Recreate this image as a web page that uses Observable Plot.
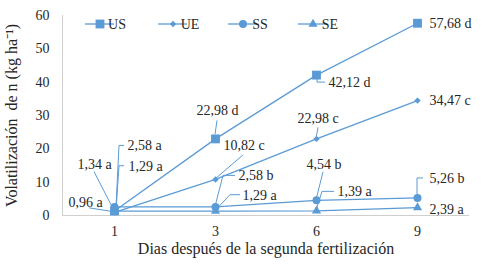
<!DOCTYPE html>
<html>
<head>
<meta charset="utf-8">
<script src="https://cdn.jsdelivr.net/npm/d3@7"></script>
<script src="https://cdn.jsdelivr.net/npm/@observablehq/plot@0.6"></script>
<style>
  html, body { margin: 0; padding: 0; background: #fff; }
  #chart { width: 495px; height: 266px; }
</style>
</head>
<body>
<div id="chart"></div>
<script>
// ---- data ----
const days = ["1", "3", "6", "9"];
const seriesNames = ["US", "UE", "SS", "SE"];
const US = [1.34, 22.98, 42.12, 57.68];
const UE = [0.96, 10.82, 22.98, 34.47];
const SS = [2.58, 2.58, 4.54, 5.26];
const SE = [1.29, 1.29, 1.39, 2.39];
const lettersUS = ["a", "d", "d", "d"];
const lettersUE = ["a", "c", "c", "c"];
const lettersSS = ["a", "b", "b", "b"];
const lettersSE = ["a", "a", "a", "a"];
const yTicks = [0, 10, 20, 30, 40, 50, 60];
const xTitle = "Dias después de la segunda fertilización";
const yTitle = "Volatilización  de n (kg ha⁻¹)";

// ---- styling (not data) ----
const blue = "#5B9BD5";
const serifFont = "Liberation Serif";
const symbolOf = {US: "square", UE: "diamond2", SS: "circle", SE: "triangle"};
const radiusOf = {US: 5, UE: 2.9, SS: 4, SE: 3.4};
// label placement: [text dx, text dy], leader path offsets (ending near the point)
const labelLayout = {
  US: [
    {t: [-37, -47], p: [[-20, -39], [0, 0]]},
    {t: [-19, -28], p: [[2, -18], [0, -4]]},
    {t: [12, 7.5], p: [[1, 0], [1, 7.5], [9, 7.5]]},
    {t: [12, 0], p: null}
  ],
  UE: [
    {t: [-46, -10], p: [[-25, -4], [0, 0]]},
    {t: [8, -34], p: [[28, -24], [0, 0]]},
    {t: [-19, -20], p: [[2, -11], [0, 0]]},
    {t: [12, 0], p: null}
  ],
  SS: [
    {t: [13, -61], p: [[10, -61], [5, -61], [2, 0]]},
    {t: [23, -31], p: [[20, -31], [8, -31], [0, 0]]},
    {t: [-10, -36], p: [[7, -28], [0, 0]]},
    {t: [12, -19.5], p: [[0, 0], [0, -19.5], [6, -19.5]]}
  ],
  SE: [
    {t: [14, -45], p: [[10, -45], [5, -45]]},
    {t: [27, -16], p: [[25, -16], [15, -16], [0, 0]]},
    {t: [21, -19], p: [[18, -19], [6, -19], [0, 0]]},
    {t: [12, 2], p: null}
  ]
};

const valuesOf = {US, UE, SS, SE};
const lettersOf = {US: lettersUS, UE: lettersUE, SS: lettersSS, SE: lettersSE};
const rows = [];
for (const s of seriesNames) {
  days.forEach((d, i) => {
    rows.push({series: s, day: d, value: valuesOf[s][i], i,
      label: String(valuesOf[s][i].toFixed(2)).replace(".", ",") + " " + lettersOf[s][i]});
  });
}

const marks = [
  Plot.frame({anchor: "left", stroke: "#cfcfcf"}),
  Plot.ruleY([0], {stroke: "#cfcfcf"}),
  Plot.axisX({tickSize: 0, tickPadding: 11, label: xTitle, labelAnchor: "center", labelOffset: 38, labelArrow: "none", fill: "#262626"}),
  Plot.axisY({ticks: yTicks, tickSize: 0, tickPadding: 13, label: yTitle, labelAnchor: "center", labelOffset: 57, labelArrow: "none", fill: "#262626"}),
  Plot.line(rows, {x: "day", y: "value", z: "series", stroke: blue, strokeWidth: 1.3})
];
for (const s of seriesNames) {
  marks.push(Plot.dot(rows.filter(r => r.series === s), {
    x: "day", y: "value", symbol: symbolOf[s], r: radiusOf[s], fill: blue, stroke: "none"
  }));
}
for (const r of rows) {
  const L = labelLayout[r.series][r.i];
  marks.push(Plot.text([r], {
    x: "day", y: "value", text: "label", dx: L.t[0], dy: L.t[1],
    textAnchor: "start", fill: "#262626", fontSize: 14, fontFamily: serifFont
  }));
}

const plot = Plot.plot({
  width: 495,
  height: 266,
  marginTop: 15,
  marginRight: 26,
  marginBottom: 51,
  marginLeft: 62,
  style: {fontFamily: serifFont, fontSize: "14px", background: "#fff", color: "#262626"},
  x: {type: "point", domain: days, padding: 0.5},
  y: {domain: [0, 60]},
  marks
});

// axis titles are a little larger than tick labels
d3.select(plot).selectAll('g[aria-label="x-axis label"], g[aria-label="y-axis label"]')
  .attr("font-size", 16);

// leader lines and legend drawn with the plot's own scales
const xs = plot.scale("x"), ys = plot.scale("y");
const svg = d3.select(plot);
const firstDot = plot.querySelector('g[aria-label="dot"]');
const leaders = document.createElementNS("http://www.w3.org/2000/svg", "g");
plot.insertBefore(leaders, firstDot);
for (const r of rows) {
  const L = labelLayout[r.series][r.i];
  if (!L.p) continue;
  const px = xs.apply(r.day), py = ys.apply(r.value);
  const pts = L.p.map(([dx, dy]) => [px + dx, py + dy]);
  if (r.series === "SE" && r.i === 0) pts.push([px + 2, py]);
  d3.select(leaders).append("path")
    .attr("d", d3.line()(pts))
    .attr("fill", "none").attr("stroke", blue).attr("stroke-width", 1);
}

// legend
const legend = svg.append("g").attr("aria-label", "legend").attr("font-family", serifFont);
const legendStarts = [85, 158, 228, 298];
const legendY = 24;
const symMap = {square: d3.symbolSquare, diamond2: d3.symbolDiamond2, circle: d3.symbolCircle, triangle: d3.symbolTriangle};
seriesNames.forEach((s, k) => {
  const x0 = legendStarts[k];
  const g = legend.append("g");
  g.append("line").attr("x1", x0).attr("x2", x0 + 29).attr("y1", legendY).attr("y2", legendY)
    .attr("stroke", blue).attr("stroke-width", 1.3);
  const rr = radiusOf[s];
  g.append("path").attr("transform", `translate(${x0 + 15},${legendY})`)
    .attr("d", d3.symbol(symMap[symbolOf[s]], Math.PI * rr * rr)())
    .attr("fill", blue);
  g.append("text").attr("x", x0 + 32).attr("y", legendY).attr("dy", "0.35em")
    .attr("fill", "#262626").attr("font-size", 14).text(s);
});

document.getElementById("chart").appendChild(plot);
</script>
</body>
</html>
